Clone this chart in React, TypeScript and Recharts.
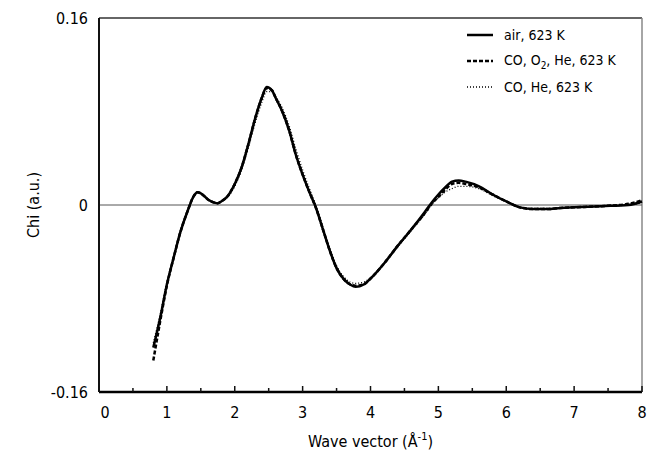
import { Line, LineChart, ReferenceLine, XAxis, YAxis } from "recharts";

const FONT = "'DejaVu Sans Condensed', 'Liberation Sans Narrow', 'DejaVu Sans', sans-serif";

// wave vector (1/Å)
const kValues = [
  0.8, 0.9, 1.0, 1.1, 1.2, 1.3, 1.4, 1.45, 1.5, 1.6, 1.7, 1.75, 1.8, 1.9, 2.0, 2.1, 2.2, 2.3, 2.4, 2.47,
  2.55, 2.6, 2.7, 2.8, 2.9, 3.0, 3.1, 3.2, 3.3, 3.4, 3.5, 3.6, 3.7, 3.78, 3.9, 4.0, 4.2, 4.4, 4.6, 4.8,
  4.9, 5.0, 5.1, 5.2, 5.3, 5.4, 5.6, 5.8, 6.0, 6.2, 6.4, 6.6, 6.8, 7.0, 7.4, 7.8, 8.0,
];

const airChi = [
  -0.122, -0.097, -0.068, -0.045, -0.023, -0.006, 0.008, 0.011, 0.01, 0.005, 0.002, 0.0015, 0.003, 0.008,
  0.018, 0.032, 0.052, 0.074, 0.092, 0.101, 0.098, 0.092, 0.08, 0.064, 0.043, 0.026, 0.011, -0.003, -0.021,
  -0.039, -0.054, -0.063, -0.068, -0.07, -0.068, -0.063, -0.05, -0.035, -0.021, -0.006, 0.002, 0.009, 0.015,
  0.02, 0.021, 0.02, 0.016, 0.009, 0.003, -0.002, -0.0035, -0.0035, -0.0025, -0.002, -0.001, 0.0, 0.003,
];

const coO2HeChi = [
  -0.133, -0.1, -0.069, -0.045, -0.023, -0.006, 0.008, 0.011, 0.01, 0.005, 0.002, 0.0015, 0.003, 0.008,
  0.018, 0.032, 0.052, 0.074, 0.092, 0.1, 0.098, 0.092, 0.08, 0.064, 0.043, 0.026, 0.011, -0.003, -0.021,
  -0.039, -0.054, -0.063, -0.068, -0.069, -0.068, -0.063, -0.05, -0.035, -0.021, -0.007, 0.001, 0.007, 0.013,
  0.018, 0.019, 0.018, 0.015, 0.009, 0.003, -0.002, -0.0035, -0.0035, -0.0025, -0.002, -0.001, 0.001, 0.004,
];

const coHeChi = [
  -0.118, -0.094, -0.066, -0.044, -0.022, -0.006, 0.007, 0.011, 0.01, 0.005, 0.002, 0.0015, 0.003, 0.007,
  0.016, 0.03, 0.049, 0.07, 0.088, 0.097, 0.097, 0.093, 0.083, 0.068, 0.048, 0.03, 0.014, -0.001, -0.019,
  -0.037, -0.052, -0.061, -0.066, -0.067, -0.066, -0.062, -0.05, -0.036, -0.022, -0.008, 0.0, 0.006, 0.011,
  0.014, 0.016, 0.016, 0.014, 0.008, 0.003, -0.002, -0.003, -0.003, -0.0025, -0.002, -0.001, 0.0, 0.002,
];

const xTicks = [0, 0.5, 1, 1.5, 2, 2.5, 3, 3.5, 4, 4.5, 5, 5.5, 6, 6.5, 7, 7.5, 8];
const yTicks = [-0.16, 0, 0.16];

const data = kValues.map((k, i) => ({
  k,
  air: airChi[i],
  coO2He: coO2HeChi[i],
  coHe: coHeChi[i],
}));

// ticks point up into the plot, labels sit below the axis
function XTick(props: any) {
  const { x, y, payload } = props;
  const v = payload.value as number;
  const major = Number.isInteger(v);
  return (
    <g>
      <line x1={x} x2={x} y1={y} y2={y - (major ? 6 : 4)} stroke="#111" strokeWidth={1.5} />
      {major && (
        <text
          x={x + (v === 0 ? 6 : 0)}
          y={y + 20}
          textAnchor="middle"
          dominantBaseline="central"
          fontSize={16}
          fontFamily={FONT}
          fill="#000"
        >
          {v}
        </text>
      )}
    </g>
  );
}

function LegendBox() {
  const rows = [
    { dash: undefined, width: 2.5, label: <>air, 623 K</> },
    { dash: "4 2", width: 2.5, label: <>CO, O<sub style={{ fontSize: 10 }}>2</sub>, He, 623 K</> },
    { dash: "1 2", width: 1.3, label: <>CO, He, 623 K</> },
  ];
  return (
    <div
      style={{ position: "absolute", top: 22, left: 466, fontFamily: FONT, fontSize: 14, color: "#000" }}
    >
      {rows.map((r, i) => (
        <div key={i} style={{ display: "flex", alignItems: "center", height: 26 }}>
          <svg width={28} height={10} style={{ marginRight: 10 }}>
            <line x1={1} x2={27} y1={5} y2={5} stroke="#000" strokeWidth={r.width} strokeDasharray={r.dash} />
          </svg>
          <span style={{ whiteSpace: "nowrap" }}>{r.label}</span>
        </div>
      ))}
    </div>
  );
}

export default function App() {
  return (
    <div style={{ position: "absolute", left: 0, top: 0, width: 651, height: 458, background: "#fff" }}>
      <LineChart width={651} height={458} data={data} margin={{ top: 18, right: 9, bottom: 0, left: 0 }}>
        <XAxis
          dataKey="k"
          type="number"
          domain={[0, 8]}
          ticks={xTicks}
          interval={0}
          tick={<XTick />}
          tickLine={false}
          tickSize={0}
          tickMargin={0}
          height={66}
          axisLine={{ stroke: "#000", strokeWidth: 2.5 }}
        />
        <YAxis
          type="number"
          domain={[-0.16, 0.16]}
          ticks={yTicks}
          width={99}
          tickLine={false}
          tickMargin={5}
          tickFormatter={(v: number) => (v === 0 ? "0" : v.toFixed(2))}
          tick={{ fontSize: 16, fontFamily: FONT, fill: "#000" }}
          axisLine={{ stroke: "#111", strokeWidth: 2 }}
        />
        {/* axis titles */}
        <ReferenceLine
          y={-0.16}
          stroke="none"
          ifOverflow="visible"
          label={(p: any) => {
            const vb = p.viewBox || {};
            return (
              <text
                x={vb.x + vb.width / 2}
                y={vb.y + 49}
                textAnchor="middle"
                dominantBaseline="central"
                fontSize={16}
                fontFamily={FONT}
                fill="#000"
              >
                Wave vector (Å<tspan dy={-5} fontSize={11}>-1</tspan>
                <tspan dy={5}>)</tspan>
              </text>
            );
          }}
        />
        <ReferenceLine
          x={0}
          stroke="none"
          ifOverflow="visible"
          label={(p: any) => {
            const vb = p.viewBox || {};
            const cx = 33;
            const cy = vb.y + vb.height / 2;
            return (
              <text
                x={cx}
                y={cy}
                transform={`rotate(-90 ${cx} ${cy})`}
                textAnchor="middle"
                dominantBaseline="central"
                fontSize={16}
                fontFamily={FONT}
                fill="#000"
              >
                Chi (a.u.)
              </text>
            );
          }}
        />
        {/* frame: top and right edges */}
        <ReferenceLine y={0.16} stroke="#333" strokeWidth={1.5} ifOverflow="visible" />
        <ReferenceLine x={8} stroke="#888" strokeWidth={1.5} ifOverflow="visible" />
        <ReferenceLine y={0} stroke="#555" strokeWidth={1} />
        <Line
          type="monotone"
          dataKey="coHe"
          stroke="#000"
          strokeWidth={1.3}
          strokeDasharray="1 2"
          dot={false}
          isAnimationActive={false}
        />
        <Line
          type="monotone"
          dataKey="coO2He"
          stroke="#000"
          strokeWidth={2.5}
          strokeDasharray="4 2"
          dot={false}
          isAnimationActive={false}
        />
        <Line type="monotone" dataKey="air" stroke="#000" strokeWidth={2.5} dot={false} isAnimationActive={false} />
      </LineChart>
      <LegendBox />
    </div>
  );
}
